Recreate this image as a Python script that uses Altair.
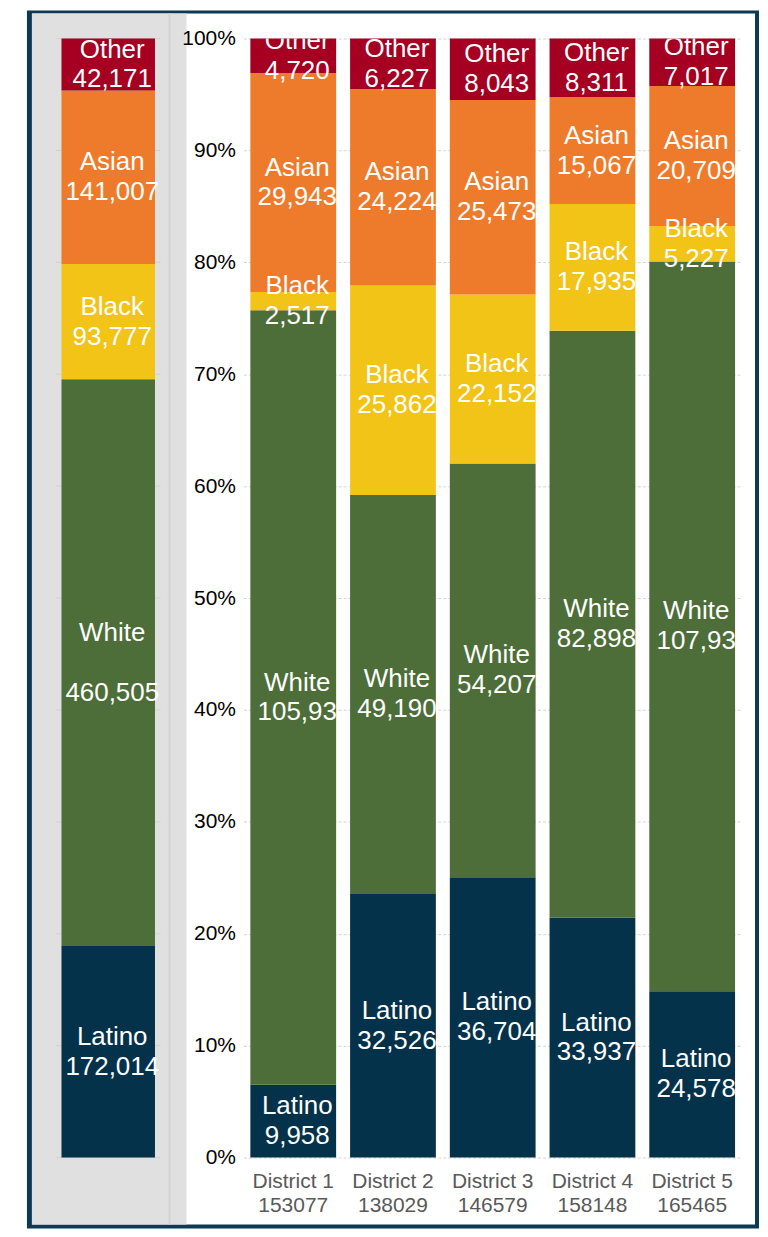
import altair as alt
import pandas as pd

# ---- data ----
areas = ["County", "District 1", "District 2", "District 3", "District 4", "District 5"]
area_totals = ["762574", "153077", "138029", "146579", "158148", "165465"]
groups = ["Latino", "White", "Black", "Asian", "Other"]
latino = [172014, 9958, 32526, 36704, 33937, 24578]
white = [460505, 105939, 49190, 54207, 82898, 107934]
black = [93777, 2517, 25862, 22152, 17935, 5227]
asian = [141007, 29943, 24224, 25473, 15067, 20709]
other = [42171, 4720, 6227, 8043, 8311, 7017]
grid_ticks = [0, 0.1, 0.2, 0.3, 0.4, 0.5, 0.6, 0.7, 0.8, 0.9, 1.0]

colors = ["#04324a", "#4d6e38", "#f2c417", "#ee7b2b", "#a50021"]
series = {"Latino": latino, "White": white, "Black": black, "Asian": asian, "Other": other}
# labels whose name and number are drawn with an empty line between them
gapped_labels = [("County", "White")]

rows = []
for i, a in enumerate(areas):
    for k, g in enumerate(groups):
        v = series[g][i]
        rows.append({"area": f"{a}|{area_totals[i]}", "group": g, "order": k,
                     "value": v, "label": f"{g}\n{v:,}", "name": g, "num": f"{v:,}",
                     "gap": 1 if (a, g) in gapped_labels else 0})
df = pd.DataFrame(rows)
county_df = df[df["area"].str.startswith("County")]
dist_df = df[~df["area"].str.startswith("County")]
ticks_df = pd.DataFrame({"t": grid_ticks})

FONT = "Liberation Sans"
NAVY = "#0b3a52"
yscale = alt.Scale(domain=[0, 1], nice=False)
TOP = -28       # frame top relative to plot top
BOT = 1193      # frame bottom relative to plot top
LEFT = -29      # frame left relative to county plot left
RIGHT = 705     # frame right relative to county plot left


def stacked(data):
    return alt.Chart(data).transform_stack(
        stack="value", groupby=["area"], as_=["v0", "v1"],
        sort=[alt.SortField("order", order="ascending")], offset="normalize"
    ).transform_calculate(mid="(datum.v0 + datum.v1) / 2")


def xaxis():
    return alt.Axis(title=None, labelAngle=0, labelExpr="split(datum.label, '|')",
                    labelFont=FONT, labelFontSize=21, labelColor="#595959",
                    labelLineHeight=24, labelPadding=13, ticks=False, domain=False)


def text_mark(limit, dy):
    return dict(font=FONT, fontSize=26, lineHeight=30, lineBreak="\n", color="white",
                baseline="middle", align="center", limit=limit, ellipsis="\u200b",
                clip=True, dx=4, dy=dy)


def label_layers(data, limit, xenc, yenc):
    base = stacked(data)
    normal = base.transform_filter("datum.gap == 0").mark_text(
        **text_mark(limit, -15)).encode(x=xenc, y=yenc, text="label:N")
    top = base.transform_filter("datum.gap == 1").mark_text(
        **text_mark(limit, -30)).encode(x=xenc, y=yenc, text="name:N")
    bottom = base.transform_filter("datum.gap == 1").mark_text(
        **text_mark(limit, 30)).encode(x=xenc, y=yenc, text="num:N")
    return [normal, top, bottom]


color = alt.Color("group:N", scale=alt.Scale(domain=groups, range=colors), legend=None)

# ---- left (County) panel, which also carries the frame ----
one = alt.Data(values=[{"k": 1}])
navy = alt.Chart(one).mark_rect(color=NAVY).encode(
    x=alt.value(LEFT), x2=alt.value(RIGHT), y=alt.value(TOP), y2=alt.value(BOT))
white_bg = alt.Chart(one).mark_rect(color="#ffffff").encode(
    x=alt.value(LEFT + 5), x2=alt.value(RIGHT - 4), y=alt.value(TOP + 3), y2=alt.value(BOT - 4))
gray_bg = alt.Chart(one).mark_rect(color="#e0e0e0").encode(
    x=alt.value(LEFT + 5), x2=alt.value(131), y=alt.value(TOP + 3), y2=alt.value(BOT - 4))
stripe = alt.Chart(one).mark_rule(color="#d3d3d3", strokeWidth=2).encode(
    x=alt.value(114), y=alt.value(TOP + 3), y2=alt.value(BOT - 4))
county_grid = alt.Chart(ticks_df).mark_rule(color="#d2d2d2", strokeWidth=1).encode(
    y=alt.Y("t:Q", scale=yscale, axis=None))

cx = alt.X("area:N", axis=xaxis(), scale=alt.Scale(paddingInner=0, paddingOuter=0.06))
county_bars = stacked(county_df).mark_bar().encode(
    x=cx, y=alt.Y("v0:Q", scale=yscale, axis=None), y2="v1", color=color)

left = alt.layer(navy, white_bg, gray_bg, stripe, county_grid, county_bars,
                 *label_layers(county_df, 100, cx, alt.Y("mid:Q", scale=yscale, axis=None))
                 ).properties(width=105, height=1122)

# ---- right (districts) panel ----
dx_enc = alt.X("area:N", axis=xaxis(), scale=alt.Scale(paddingInner=0.14, paddingOuter=0.07))


def yaxis():
    return alt.Axis(title=None, format="%", values=grid_ticks, labelFont=FONT,
                    labelFontSize=21, labelColor="#000000", labelPadding=8,
                    ticks=False, domain=False, grid=True, gridColor="#d4d4d4",
                    gridDash=[3, 2])


dist_bars = stacked(dist_df).mark_bar().encode(
    x=dx_enc, y=alt.Y("v0:Q", scale=yscale, axis=yaxis()), y2="v1", color=color)

right = alt.layer(dist_bars,
                  *label_layers(dist_df, 88, dx_enc, alt.Y("mid:Q", scale=yscale, axis=yaxis()))
                  ).properties(width=500, height=1122)

chart = alt.hconcat(left, right, spacing=83, bounds="flush").properties(
    padding={"left": 18, "top": 0, "right": 0, "bottom": 0}
).configure_view(stroke="transparent")

chart.save("out.html", embed_options={"renderer": "svg", "actions": False})
